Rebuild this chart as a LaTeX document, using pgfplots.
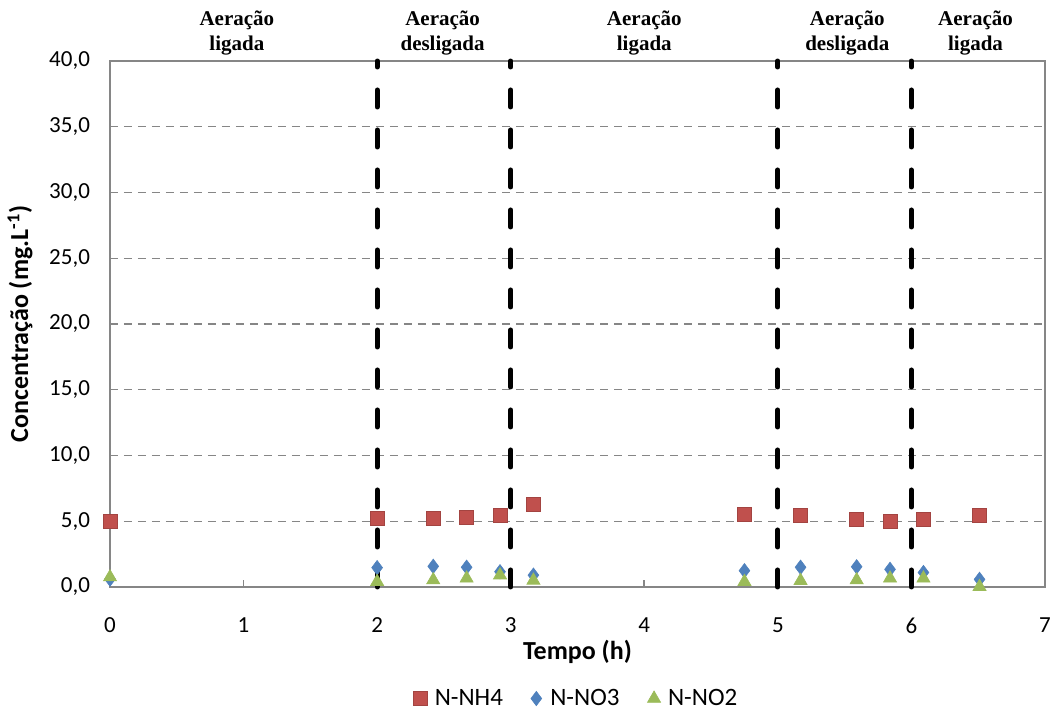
\documentclass[border=0pt]{standalone}
\usepackage{fontspec}
\setmainfont{Carlito}
\newfontfamily\serifb{Liberation Serif}
\usepackage{pgfplots}
\pgfplotsset{compat=1.18}
\definecolor{cNH}{HTML}{C0504D}
\definecolor{cNO3}{HTML}{4F81BD}
\definecolor{cNO2}{HTML}{9BBB59}
\definecolor{cFrame}{HTML}{868686}
\tikzset{annot/.style={font=\serifb\fontsize{10.5}{12.5}\selectfont\bfseries,
    align=center,anchor=south,inner sep=0pt,yshift=2.5pt},
  sep/.style={black,line width=2.5pt,line cap=round,dash pattern=on 8.5pt off 11.5pt}}

\begin{document}
\begin{tikzpicture}
\path[use as bounding box] (-55pt,-62pt) rectangle (470.5pt,293.5pt);
\begin{axis}[scale only axis,width=467.5pt,height=263pt,
  xmin=0,xmax=7,ymin=0,ymax=40,
  xtick={0,1,...,7},ytick={0,5,...,40},
  axis line style={cFrame,line width=1pt},
  xtick pos=bottom,ytick pos=left,tick align=inside,
  major tick length=3.5pt,tick style={cFrame,line width=0.8pt},
  ytick style={draw=none},
  ymajorgrids,grid style={cFrame,line width=0.6pt,dash pattern=on 4pt off 3pt},
  font=\fontsize{11.5}{13.5}\selectfont,
  /pgf/number format/assume math mode=true,
  yticklabel style={xshift=-6.5pt,/pgf/number format/.cd,fixed,fixed zerofill,precision=1,use comma},
  xticklabel style={yshift=-12pt},
  xlabel={\textbf{Tempo (h)}},
  ylabel={\textbf{Concentração (mg.L\textsuperscript{-1})}},
  label style={font=\fontsize{13}{15}\selectfont},
  xlabel style={yshift=3.5pt},
  ylabel style={yshift=1.5pt},
  clip=false,
  legend style={at={(0.5,-0.212)},anchor=center,draw=none,
    legend columns=3,font=\fontsize{12.5}{14}\selectfont,
    /tikz/every even column/.append style={column sep=12pt}},
  legend image code/.code={\path[draw=none,fill=none] (0pt,0pt) -- (5pt,0pt);
    \draw[#1,draw=none] plot coordinates {(0pt,0pt)};},
]
% vertical phase separators
\addplot[forget plot,sep] coordinates {(2,0) (2,40)};
\addplot[forget plot,sep] coordinates {(3,0) (3,40)};
\addplot[forget plot,sep] coordinates {(5,0) (5,40)};
\addplot[forget plot,sep] coordinates {(6,0) (6,40)};

\addplot[only marks,mark=square*,mark size=3.5pt,mark options={fill=cNH,draw=cNH!85!black,line width=0.3pt}]
  coordinates {(0,5.0) (2.0,5.2) (2.42,5.2) (2.67,5.3) (2.92,5.45) (3.17,6.3)
    (4.75,5.55) (5.17,5.45) (5.59,5.15) (5.84,5.0) (6.09,5.15) (6.51,5.45)};
\addlegendentry{N-NH4}
\addplot[only marks,mark=diamond*,mark size=3.6pt,mark options={fill=cNO3,draw=cNO3,line width=0.3pt}]
  coordinates {(0,0.6) (2.0,1.47) (2.42,1.57) (2.67,1.5) (2.92,1.16) (3.17,0.9)
    (4.75,1.24) (5.17,1.5) (5.59,1.54) (5.84,1.34) (6.09,1.1) (6.51,0.58)};
\addlegendentry{N-NO3}
\addplot[only marks,mark=triangle*,mark size=3.8pt,mark options={fill=cNO2,draw=cNO2,line width=0.3pt}]
  coordinates {(0,0.75) (2.0,0.4) (2.42,0.53) (2.67,0.66) (2.92,0.9) (3.17,0.5)
    (4.75,0.4) (5.17,0.48) (5.59,0.53) (5.84,0.66) (6.09,0.66) (6.51,0.02)};
\addlegendentry{N-NO2}

% phase annotations
\node[annot] at (axis cs:0.95,40) {Aeração\\ligada};
\node[annot] at (axis cs:2.49,40) {Aeração\\desligada};
\node[annot] at (axis cs:4.0,40) {Aeração\\ligada};
\node[annot] at (axis cs:5.52,40) {Aeração\\desligada};
\node[annot] at (axis cs:6.48,40) {Aeração\\ligada};
\end{axis}
\end{tikzpicture}
\end{document}
